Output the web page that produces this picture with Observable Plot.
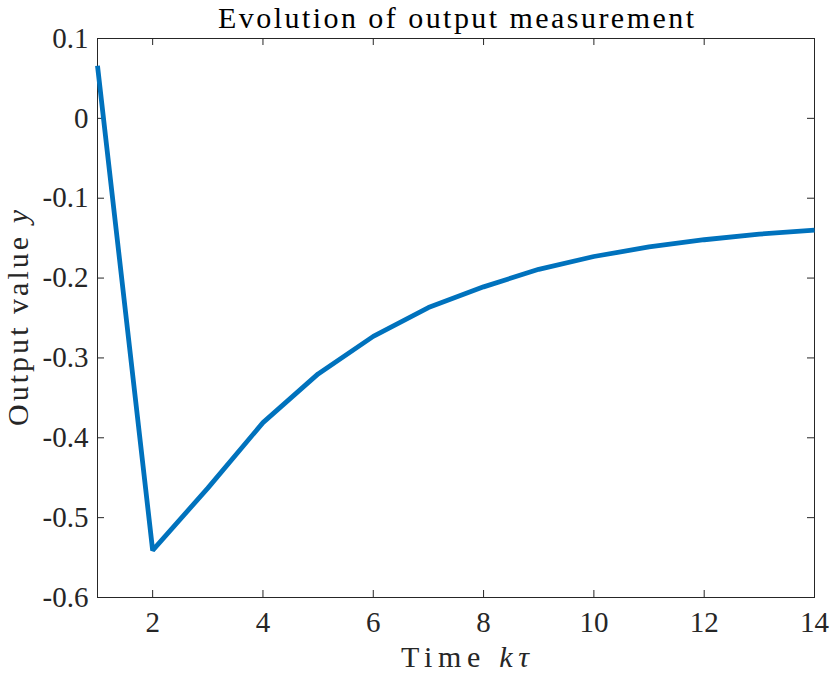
<!DOCTYPE html>
<html>
<head>
<meta charset="utf-8">
<script src="https://cdn.jsdelivr.net/npm/d3@7"></script>
<script src="https://cdn.jsdelivr.net/npm/@observablehq/plot@0.6"></script>
<style>
  html, body { margin: 0; padding: 0; background: #fff; }
</style>
</head>
<body>
<div id="chart"></div>
<script>
const titleText = "Evolution of output measurement";
const xLabelText = "Time kτ";
const yLabelText = "Output value y";
const kValues = [1, 2, 3, 4, 5, 6, 7, 8, 9, 10, 11, 12, 13, 14];
const yValues = [0.066, -0.541, -0.463, -0.381, -0.320, -0.273, -0.237, -0.211, -0.189, -0.173, -0.161, -0.152, -0.145, -0.140];
const xTicks = [2, 4, 6, 8, 10, 12, 14];
const yTicks = [0.1, 0, -0.1, -0.2, -0.3, -0.4, -0.5, -0.6];
const yTickLabels = ["0.1", "0", "-0.1", "-0.2", "-0.3", "-0.4", "-0.5", "-0.6"];

const data = kValues.map((k, i) => ({k, y: yValues[i]}));

const W = 830, H = 673, mL = 97, mR = 16, mT = 38, mB = 76;
const plotW = W - mL - mR, plotH = H - mT - mB;
const tickLen = 7;
const ink = "#262626";
const font = "'Liberation Serif', 'Times New Roman', serif";

const chart = Plot.plot({
  width: W, height: H,
  marginLeft: mL, marginRight: mR, marginTop: mT, marginBottom: mB,
  style: {fontFamily: font, fontSize: "29px", color: ink, background: "#fff", overflow: "visible"},
  x: {domain: [1, 14]},
  y: {domain: [-0.6, 0.1]},
  marks: [
    Plot.frame({stroke: ink, strokeWidth: 1}),
    Plot.tickX(xTicks, {x: d => d, insetTop: plotH - tickLen, stroke: ink, strokeWidth: 1}),
    Plot.tickX(xTicks, {x: d => d, insetBottom: plotH - tickLen, stroke: ink, strokeWidth: 1}),
    Plot.tickY(yTicks, {y: d => d, insetRight: plotW - tickLen, stroke: ink, strokeWidth: 1}),
    Plot.tickY(yTicks, {y: d => d, insetLeft: plotW - tickLen, stroke: ink, strokeWidth: 1}),
    Plot.axisX(xTicks, {tickSize: 0, tickPadding: 14, fontSize: 29, label: null}),
    Plot.axisY(yTicks, {tickSize: 0, tickPadding: 9, fontSize: 29, tickFormat: (d, i) => yTickLabels[i], label: null}),
    Plot.line(data, {x: "k", y: "y", stroke: "#0072BD", strokeWidth: 4.8, strokeLinejoin: "miter", strokeLinecap: "butt"}),
    Plot.text([titleText], {text: d => d, frameAnchor: "top", lineAnchor: "bottom", dy: -11, fontSize: 30, fill: "#000"}),
    Plot.text([xLabelText], {text: d => d, frameAnchor: "bottom", lineAnchor: "bottom", textAnchor: "middle", dx: 9, dy: 69, fontSize: 30, fill: ink}),
    Plot.text([yLabelText], {text: d => d, frameAnchor: "left", lineAnchor: "bottom", textAnchor: "middle", rotate: -90, dx: -70, fontSize: 30, fill: ink})
  ]
});

// italicise math symbols and match the reference text widths
d3.select(chart).selectAll("text").each(function() {
  const t = d3.select(this);
  const s = t.text();
  if (s === titleText) {
    t.attr("textLength", 476).attr("lengthAdjust", "spacing");
  } else if (s === xLabelText) {
    t.text(null);
    t.append("tspan").text("Time ");
    t.append("tspan").attr("font-style", "italic").text("kτ");
    t.attr("textLength", 128).attr("lengthAdjust", "spacing");
  } else if (s === yLabelText) {
    t.text(null);
    t.append("tspan").text("Output value ");
    t.append("tspan").attr("font-style", "italic").text("y");
    t.attr("textLength", 216).attr("lengthAdjust", "spacing");
  }
});

document.getElementById("chart").appendChild(chart);
</script>
</body>
</html>
